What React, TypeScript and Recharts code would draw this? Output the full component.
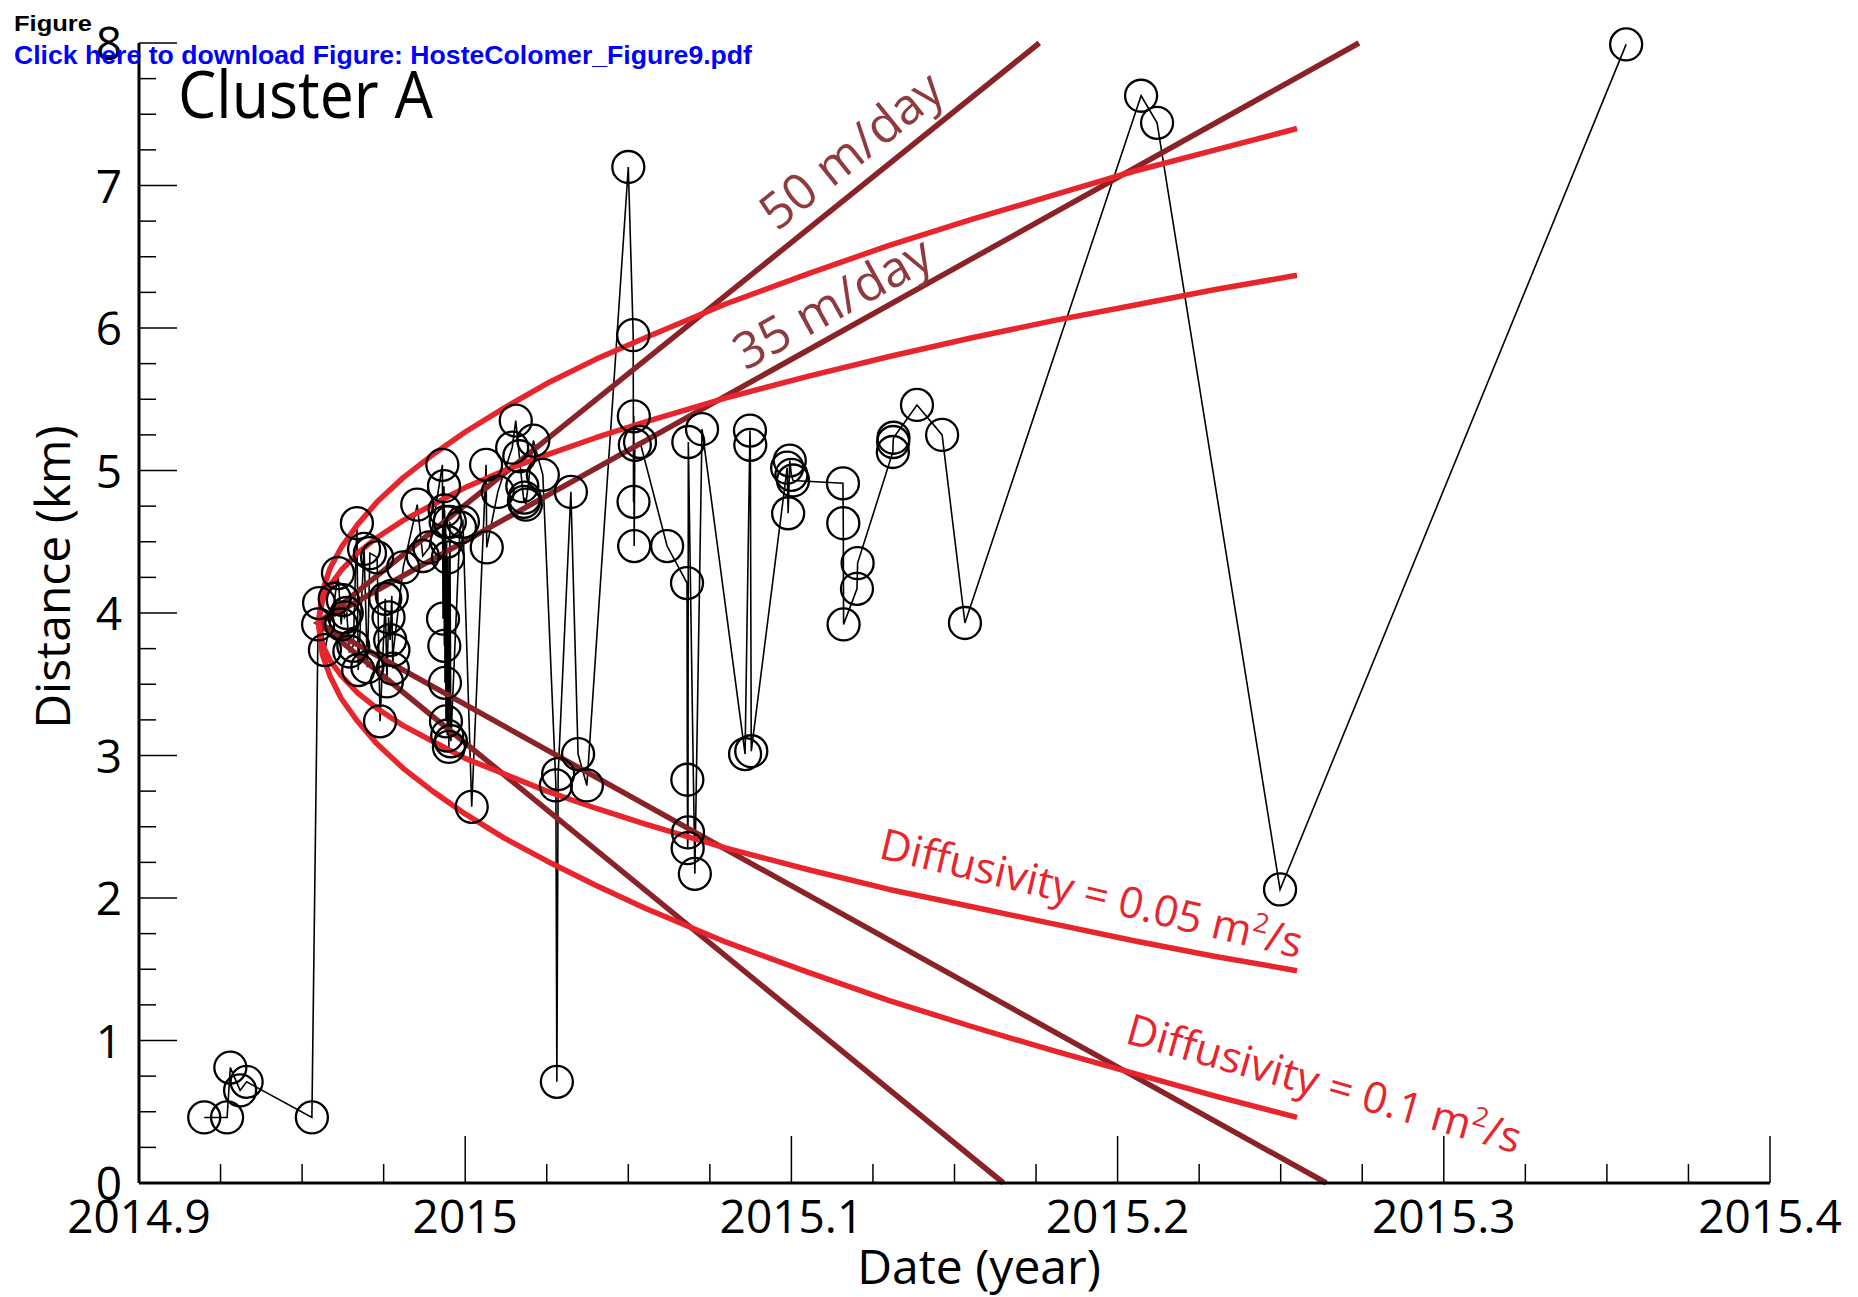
import { ComposedChart, Line, XAxis, YAxis } from 'recharts'

// event dates (decimal year) and distances (km), in time order
const dates = [
  2014.92, 2014.927, 2014.928, 2014.931, 2014.933, 2014.953, 2014.9549, 2014.9552, 2014.957, 2014.96,
  2014.961, 2014.962, 2014.9625, 2014.963, 2014.9637, 2014.9645, 2014.9657, 2014.9668, 2014.9672, 2014.969,
  2014.97, 2014.9708, 2014.973, 2014.9739, 2014.9755, 2014.976, 2014.9765, 2014.977, 2014.9775, 2014.9778,
  2014.978, 2014.981, 2014.9853, 2014.987, 2014.989, 2014.993, 2014.9932, 2014.9935, 2014.9936, 2014.9937,
  2014.9938, 2014.994, 2014.9941, 2014.9943, 2014.9945, 2014.9947, 2014.995, 2014.9953, 2014.9956, 2014.9984,
  2014.9993, 2015.002, 2015.0064, 2015.0066, 2015.01, 2015.0144, 2015.0155, 2015.0166, 2015.0175, 2015.018,
  2015.0182, 2015.0186, 2015.0209, 2015.0238, 2015.0278, 2015.0281, 2015.0285, 2015.0324, 2015.0346, 2015.0373,
  2015.05, 2015.0515, 2015.0516, 2015.0517, 2015.0518, 2015.052, 2015.0536, 2015.0619, 2015.068, 2015.0681,
  2015.0682, 2015.0683, 2015.0684, 2015.0704, 2015.0726, 2015.0858, 2015.0873, 2015.0874, 2015.0877, 2015.0987,
  2015.099, 2015.0995, 2015.1, 2015.1005, 2015.1158, 2015.1159, 2015.116, 2015.1201, 2015.1203, 2015.1311,
  2015.1312, 2015.1313, 2015.1385, 2015.1462, 2015.1532, 2015.2072, 2015.2121, 2015.2498, 2015.3559,
]
const distances = [
  0.46, 0.46, 0.81, 0.65, 0.71, 0.46, 3.92, 4.07, 3.74, 4.1,
  4.28, 3.92, 4.09, 3.97, 4.0, 3.73, 3.77, 4.63, 3.6, 4.45,
  3.62, 4.42, 4.39, 3.24, 4.1, 3.52, 3.97, 3.81, 4.12, 3.61,
  3.74, 4.32, 4.76, 4.4, 4.46, 5.04, 3.96, 4.89, 3.77, 4.72,
  3.51, 4.64, 3.24, 4.5, 3.14, 4.39, 3.06, 4.64, 3.1, 4.6,
  4.64, 2.64, 5.04, 4.46, 4.85, 5.16, 5.35, 5.1, 4.89, 4.78,
  4.81, 4.76, 5.21, 4.97, 2.79, 0.71, 2.87, 4.85, 3.01, 2.79,
  7.13, 5.95, 4.78, 5.38, 4.47, 5.18, 5.2, 4.47, 4.21, 2.83,
  2.35, 2.46, 5.2, 2.17, 5.29, 3.01, 5.28, 5.18, 3.03, 5.02,
  4.7, 5.07, 4.97, 4.93, 4.91, 4.63, 3.92, 4.17, 4.35, 5.13,
  5.2, 5.23, 5.46, 5.25, 3.93, 7.63, 7.44, 2.06, 7.99,
]

// diffusion fronts, read along each curve from its right end back to the vertex
const frontDates = [
  2015.255, 2015.23, 2015.205, 2015.18, 2015.155, 2015.13, 2015.105, 2015.08, 2015.055, 2015.04, 2015.025,
  2015.012, 2015.0, 2014.99, 2014.981, 2014.973, 2014.967, 2014.962, 2014.9585, 2014.9562, 2014.955,
]
const front05Upper = [6.37, 6.27, 6.16, 6.05, 5.93, 5.8, 5.66, 5.51, 5.34, 5.23, 5.11, 5.0, 4.88, 4.76, 4.65, 4.53, 4.42, 4.3, 4.19, 4.08, 3.93]
const front05Lower = [1.49, 1.59, 1.7, 1.82, 1.94, 2.06, 2.2, 2.35, 2.52, 2.63, 2.75, 2.87, 2.98, 3.1, 3.21, 3.33, 3.44, 3.56, 3.67, 3.78, 3.93]
const front1Upper = [7.4, 7.25, 7.1, 6.93, 6.76, 6.58, 6.38, 6.17, 5.93, 5.78, 5.61, 5.44, 5.27, 5.11, 4.95, 4.78, 4.62, 4.46, 4.31, 4.15, 3.93]
const front1Lower = [0.46, 0.61, 0.77, 0.93, 1.1, 1.28, 1.48, 1.69, 1.93, 2.09, 2.26, 2.42, 2.59, 2.75, 2.91, 3.08, 3.24, 3.4, 3.56, 3.71, 3.93]

// migration velocity lines: start, then where they leave the frame
const velOrigin = { x: 2014.955, y: 3.93 }
const vel50Ends = [{ x: 2015.176, y: 8 }, { x: 2015.165, y: 0 }]
const vel35Ends = [{ x: 2015.274, y: 8 }, { x: 2015.264, y: 0 }]

const xTicks = [
  2014.9, 2014.925, 2014.95, 2014.975, 2015.0, 2015.025, 2015.05, 2015.075, 2015.1, 2015.125, 2015.15,
  2015.175, 2015.2, 2015.225, 2015.25, 2015.275, 2015.3, 2015.325, 2015.35, 2015.375, 2015.4,
]
const yTicks = [
  0, 0.25, 0.5, 0.75, 1, 1.25, 1.5, 1.75, 2, 2.25, 2.5, 2.75, 3, 3.25, 3.5, 3.75, 4,
  4.25, 4.5, 4.75, 5, 5.25, 5.5, 5.75, 6, 6.25, 6.5, 6.75, 7, 7.25, 7.5, 7.75, 8,
]

const RED = '#e8252c'
const DARK = '#8a2327'
const LABEL_DARK = '#8f3a3f'
const FONT = '"Open Sans", "Noto Sans", sans-serif'
const ARIAL = "'Liberation Sans', Arial, sans-serif"

const W = 1858
const H = 1297

const points = dates.map((d, i) => ({ x: d, y: distances[i] }))
const upperThenLower = (upper: number[], lower: number[]) => [
  ...frontDates.map((d, i) => ({ x: d, y: upper[i] })),
  ...frontDates.map((d, i) => ({ x: d, y: lower[i] })).reverse(),
]
const front05 = upperThenLower(front05Upper, front05Lower)
const front1 = upperThenLower(front1Upper, front1Lower)
const vel50 = [vel50Ends[0], velOrigin, vel50Ends[1]]
const vel35 = [vel35Ends[0], velOrigin, vel35Ends[1]]

const isMajorX = (v: number) => Math.abs(v * 10 - Math.round(v * 10)) < 1e-6
const isMajorY = (v: number) => Math.abs(v - Math.round(v)) < 1e-6

const BottomTick = (p: any) => {
  const v = p.payload.value
  const major = isMajorX(v)
  return (
    <g>
      <line x1={p.x} y1={p.y} x2={p.x} y2={p.y - (major ? 47 : 19)} stroke="#000" strokeWidth={1.5} />
      {major && (
        <text x={p.x} y={p.y + 50} textAnchor="middle" fontSize={46} fontFamily={FONT} fill="#000">
          {String(Math.round(v * 10) / 10)}
        </text>
      )}
    </g>
  )
}
const TopTick = (p: any) => {
  const major = isMajorX(p.payload.value)
  return <line x1={p.x} y1={p.y} x2={p.x} y2={p.y + (major ? 47 : 19)} stroke="#000" strokeWidth={1.5} />
}
const LeftTick = (p: any) => {
  const v = p.payload.value
  const major = isMajorY(v)
  return (
    <g>
      <line x1={p.x} y1={p.y} x2={p.x + (major ? 38 : 17)} y2={p.y} stroke="#000" strokeWidth={1.5} />
      {major && (
        <text x={p.x - 17} y={p.y + 17} textAnchor="end" fontSize={46} fontFamily={FONT} fill="#000">
          {String(Math.round(v))}
        </text>
      )}
    </g>
  )
}
const RightTick = (p: any) => {
  const major = isMajorY(p.payload.value)
  return <line x1={p.x} y1={p.y} x2={p.x - (major ? 38 : 17)} y2={p.y} stroke="#000" strokeWidth={1.5} />
}

const frame = { stroke: '#000', strokeWidth: 3 }

export default function App() {
  return (
    <div style={{ position: 'absolute', left: 0, top: 0, width: W, height: H, background: '#fff' }}>
      <ComposedChart width={W} height={H} margin={{ top: 43, right: 88, bottom: 54, left: 79 }}>
        <XAxis xAxisId="b" dataKey="x" type="number" domain={[2014.9, 2015.4]} ticks={xTicks} interval={0}
          height={60} tickSize={0} tickMargin={0} axisLine={frame} tickLine={false} tick={<BottomTick />} />
        <XAxis xAxisId="t" orientation="top" dataKey="x" type="number" domain={[2014.9, 2015.4]} ticks={xTicks}
          interval={0} height={0} tickSize={0} tickMargin={0} axisLine={frame} tickLine={false} tick={<TopTick />} />
        <YAxis yAxisId="l" dataKey="y" type="number" domain={[0, 8]} ticks={yTicks} interval={0}
          width={60} tickSize={0} tickMargin={0} axisLine={frame} tickLine={false} tick={<LeftTick />} />
        <YAxis yAxisId="r" orientation="right" dataKey="y" type="number" domain={[0, 8]} ticks={yTicks}
          interval={0} width={0} tickSize={0} tickMargin={0} axisLine={frame} tickLine={false} tick={<RightTick />} />

        <Line xAxisId="b" yAxisId="l" data={points} dataKey="y" type="linear" stroke="#000" strokeWidth={1.6}
          dot={{ r: 16, fill: 'none', stroke: '#000', strokeWidth: 2.3, clipDot: false }}
          activeDot={false} isAnimationActive={false} />
        <Line xAxisId="b" yAxisId="l" data={vel50} dataKey="y" type="linear" stroke={DARK} strokeWidth={5.5}
          dot={false} activeDot={false} isAnimationActive={false} />
        <Line xAxisId="b" yAxisId="l" data={vel35} dataKey="y" type="linear" stroke={DARK} strokeWidth={5.5}
          dot={false} activeDot={false} isAnimationActive={false} />
        <Line xAxisId="b" yAxisId="l" data={front05} dataKey="y" type="linear" stroke={RED} strokeWidth={5.5}
          strokeLinejoin="round" dot={false} activeDot={false} isAnimationActive={false} />
        <Line xAxisId="b" yAxisId="l" data={front1} dataKey="y" type="linear" stroke={RED} strokeWidth={5.5}
          strokeLinejoin="round" dot={false} activeDot={false} isAnimationActive={false} />
      </ComposedChart>

      <svg width={W} height={H} style={{ position: 'absolute', left: 0, top: 0, pointerEvents: 'none' }}>
        <text x={14} y={31} fontSize={22} fontWeight="bold" fontFamily={ARIAL} fill="#000"
          textLength={78} lengthAdjust="spacingAndGlyphs">Figure</text>
        <text x={14} y={64} fontSize={25} fontWeight="bold" fontFamily={ARIAL} fill="#0000ff"
          textLength={738} lengthAdjust="spacingAndGlyphs">
          Click here to download Figure: HosteColomer_Figure9.pdf
        </text>
        <text x={178} y={118} fontSize={66} fontFamily={FONT} fill="#000"
          textLength={255} lengthAdjust="spacingAndGlyphs">Cluster A</text>
        <text x={979} y={1284} textAnchor="middle" fontSize={48} fontFamily={FONT} fill="#000">Date (year)</text>
        <text transform="translate(70,577) rotate(-90)" textAnchor="middle" fontSize={48} fontFamily={FONT} fill="#000">
          Distance (km)
        </text>
        <text transform="translate(862,164) rotate(-38.8)" textAnchor="middle" fontSize={50} fontFamily={FONT} fill={LABEL_DARK}>
          50 m/day
        </text>
        <text transform="translate(841,318) rotate(-29)" textAnchor="middle" fontSize={50} fontFamily={FONT} fill={LABEL_DARK}>
          35 m/day
        </text>
        <text transform="translate(1088,908) rotate(13.4)" textAnchor="middle" fontSize={43} fontFamily={FONT} fill={RED}>
          Diffusivity = 0.05 m<tspan dy={-16} fontSize={27}>2</tspan><tspan dy={16}>/s</tspan>
        </text>
        <text transform="translate(1320,1098) rotate(15.8)" textAnchor="middle" fontSize={43} fontFamily={FONT} fill={RED}>
          Diffusivity = 0.1 m<tspan dy={-16} fontSize={27}>2</tspan><tspan dy={16}>/s</tspan>
        </text>
      </svg>
    </div>
  )
}
